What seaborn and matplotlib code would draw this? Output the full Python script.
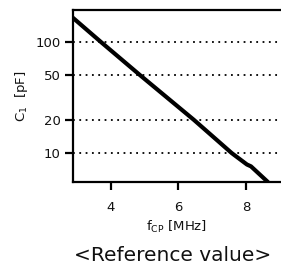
import matplotlib
matplotlib.use('Agg')
import matplotlib.pyplot as plt
import seaborn as sns
import pandas as pd

# values
freq_mhz = [2.87, 3.70, 4.87, 6.45, 7.58, 8.03, 8.15, 8.65]
c1_pf = [165, 100, 50, 20, 10, 7.9, 7.6, 5.5]
x_ticks = [4, 6, 8]
y_ticks = [10, 20, 50, 100]

sns.set_style('white')
plt.rcParams['font.family'] = ['DejaVu Sans']
plt.rcParams['mathtext.fontset'] = 'dejavusans'

df = pd.DataFrame({'f': freq_mhz, 'c1': c1_pf})

fig = plt.figure(figsize=(2.81, 2.70), dpi=100)
ax = fig.add_axes([0.26, 0.326, 0.74, 0.637])

ax.set_yscale('log')
sns.lineplot(data=df, x='f', y='c1', ax=ax, color='black', linewidth=3, sort=False)

# dotted grid lines at the y ticks
for v in y_ticks:
    ax.axhline(v, color='black', linestyle=(0, (1, 2.5)), linewidth=1.3, zorder=0)

ax.set_xlim(2.874, 9.04)
ax.set_ylim(5.5, 194)
ax.set_xticks(x_ticks)
ax.set_xticklabels([str(t) for t in x_ticks])
ax.set_yticks(y_ticks)
ax.set_yticklabels([str(t) for t in y_ticks])
ax.minorticks_off()

for s in ['left', 'bottom', 'top']:
    ax.spines[s].set_linewidth(1.6)
    ax.spines[s].set_color('black')
ax.spines['right'].set_visible(False)

ax.tick_params(axis='both', direction='out', length=6, width=1.6, color='black',
               labelsize=9.5, pad=3, labelcolor='#111111')
ax.tick_params(axis='x', pad=8)
ax.tick_params(bottom=True, left=True)

ax.set_xlabel('f$_{\\mathrm{CP}}$ [MHz]', fontsize=9.5, color='#111111', labelpad=3)
ax.set_ylabel('C$_{1}$  [pF]', fontsize=9.5, color='#111111', labelpad=4)

fig.text(0.614, 0.055, '<Reference value>', ha='center', va='center',
         fontsize=14.5, color='#111111')

fig.savefig('out.png', dpi=100)
